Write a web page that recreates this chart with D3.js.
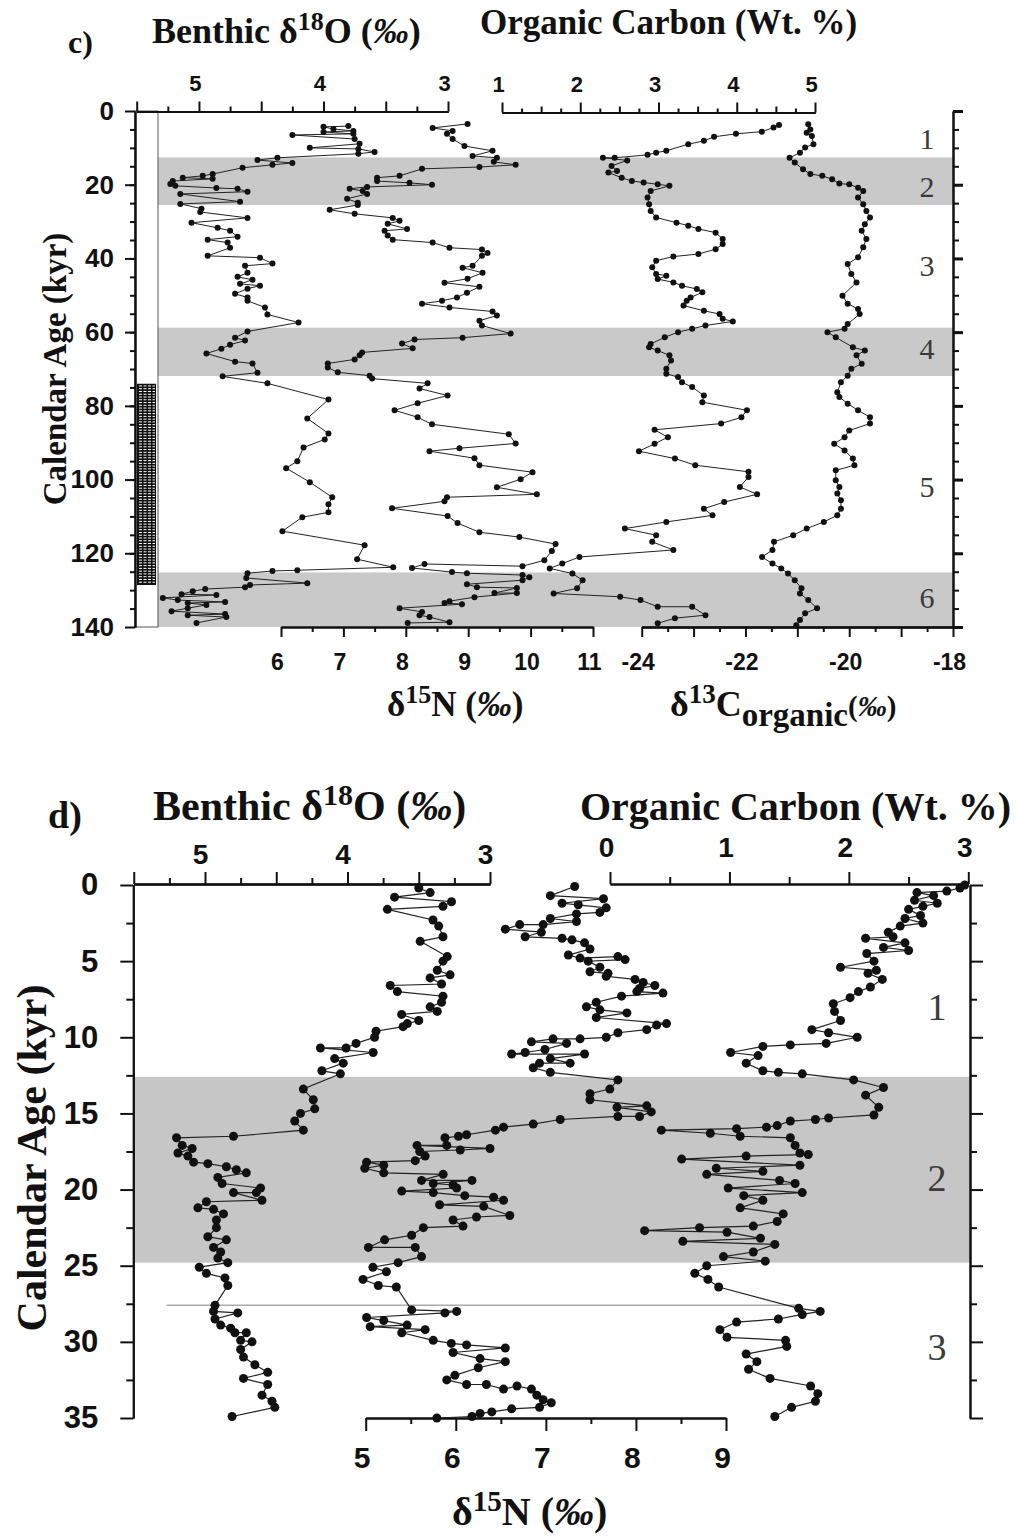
<!DOCTYPE html>
<html>
<head>
<meta charset="utf-8">
<script src="https://cdn.jsdelivr.net/npm/d3@7"></script>
<style>
  body { margin: 0; background: #fff; }
</style>
</head>
<body>
<svg id="chart" width="1016" height="1538"></svg>
<script>
// ---- panel c data: [age kyr, value] ----
const c_d18o = [[4.1,3.80],[4.3,4.00],[4.9,3.92],[5.4,3.76],[5.7,4.00],[6.2,3.76],[6.5,4.25],[7.6,3.75],[8.9,3.71],[10.0,4.11],[10.3,3.72],[11.1,3.59],[11.6,3.72],[12.7,4.37],[13.3,4.53],[14.1,4.25],[14.6,4.41],[15.4,4.65],[17.1,4.89],[17.6,4.97],[18.1,5.13],[18.4,4.89],[19.0,5.21],[19.8,5.23],[20.3,5.19],[20.9,4.86],[21.1,4.69],[21.9,4.61],[22.5,5.15],[24.6,4.67],[25.2,5.15],[26.5,4.98],[27.4,4.99],[29.0,4.61],[30.3,5.06],[31.7,4.85],[32.5,4.75],[34.1,4.69],[34.9,4.93],[35.7,4.77],[37.1,4.75],[39.3,4.93],[39.8,4.51],[41.4,4.41],[42.0,4.63],[43.9,4.61],[45.0,4.69],[45.8,4.57],[46.9,4.67],[47.4,4.51],[48.2,4.61],[49.6,4.71],[50.6,4.61],[51.5,4.61],[53.3,4.47],[55.2,4.45],[57.4,4.20],[59.8,4.61],[61.5,4.71],[62.3,4.63],[63.4,4.75],[64.5,4.82],[65.8,4.94],[68.0,4.71],[68.5,4.57],[71.0,4.53],[72.0,4.81],[73.9,4.45],[78.3,3.96],[83.4,4.13],[87.5,3.96],[89.1,3.99],[91.3,4.16],[95.0,4.21],[96.9,4.30],[100.7,4.11],[104.8,3.93],[106.7,3.96],[108.9,3.96],[110.2,4.17],[114.0,4.33],[117.8,3.67],[121.6,3.73],[123.8,3.44],[124.6,4.21],[124.8,4.41],[125.4,4.61],[126.7,4.62],[128.1,4.13],[128.6,4.59],[129.2,4.63],[129.7,4.95],[130.3,5.05],[131.1,5.14],[131.3,4.86],[132.1,5.29],[132.7,5.17],[133.2,4.79],[133.5,5.09],[134.0,4.94],[134.9,5.09],[135.7,5.22],[136.5,4.79],[136.8,5.09],[137.3,4.78],[138.9,5.02]];

const c_d15n = [[3.5,8.99],[4.6,8.43],[5.4,8.75],[6.2,8.66],[7.6,8.75],[9.5,8.94],[10.8,9.39],[12.2,9.07],[12.7,9.46],[13.8,9.41],[14.6,9.76],[15.2,9.18],[15.7,8.26],[17.6,7.90],[18.1,7.54],[19.0,7.54],[19.5,8.06],[20.0,8.42],[20.6,7.38],[21.1,7.10],[21.7,7.31],[22.5,7.38],[23.8,7.06],[24.9,7.23],[25.5,7.23],[26.8,6.78],[27.9,7.18],[29.0,7.79],[29.8,7.90],[30.6,7.71],[32.0,8.02],[32.5,7.66],[33.8,7.71],[34.9,7.79],[35.7,8.43],[37.1,8.70],[37.6,9.22],[38.5,9.31],[39.3,9.22],[42.0,9.07],[42.5,8.91],[43.9,9.23],[45.5,8.99],[46.6,8.62],[47.7,9.18],[49.3,8.98],[50.6,8.82],[51.5,8.58],[52.3,8.26],[53.3,8.70],[54.4,9.39],[55.5,9.46],[56.9,9.18],[58.2,9.22],[60.4,9.68],[61.5,8.91],[62.0,8.14],[63.1,7.94],[64.4,8.11],[65.5,7.30],[66.3,7.26],[67.4,7.18],[68.5,6.75],[69.6,6.75],[70.9,6.91],[71.8,7.42],[72.6,7.46],[73.9,8.35],[75.3,8.22],[77.2,8.67],[79.3,8.19],[81.2,7.82],[83.1,8.19],[85.0,8.42],[87.7,9.65],[90.2,9.76],[91.5,8.86],[92.3,8.38],[94.2,9.10],[96.1,9.18],[98.0,10.03],[99.9,9.84],[102.1,9.46],[104.0,10.10],[104.8,8.66],[105.9,8.62],[107.8,7.78],[109.9,8.67],[111.8,8.83],[114.3,9.18],[115.6,9.82],[117.5,10.40],[119.4,10.34],[121.9,10.22],[123.5,9.87],[122.9,8.30],[124.0,8.10],[125.1,8.74],[125.4,8.98],[125.9,9.87],[126.5,9.98],[127.3,9.87],[128.4,8.98],[129.2,9.14],[129.4,9.78],[130.8,9.42],[130.8,9.78],[131.9,9.10],[133.0,8.70],[133.5,8.62],[133.8,8.90],[134.9,7.90],[135.9,8.26],[136.8,8.22],[137.3,8.38],[138.7,8.70],[138.9,8.03]];

const c_orgc = [[3.8,4.54],[4.5,4.47],[5.6,4.32],[6.2,3.99],[7.0,3.71],[8.1,3.58],[9.0,3.38],[10.8,3.10],[11.3,2.97],[11.9,2.86],[12.7,2.44],[12.7,2.29],[13.4,2.60],[14.9,2.40],[16.3,2.47],[16.7,2.36],[18.1,2.53],[19.0,2.66],[19.4,2.81],[19.9,2.99],[20.3,3.14],[21.7,2.90],[23.5,2.86],[25.3,2.88],[27.1,2.90],[28.9,2.97],[30.3,3.23],[31.1,3.38],[32.0,3.51],[33.0,3.73],[34.7,3.82],[36.1,3.82],[37.5,3.73],[38.8,3.51],[39.5,3.19],[40.6,2.97],[42.4,2.92],[44.2,2.97],[44.7,3.10],[45.6,2.99],[46.5,3.19],[47.4,3.30],[48.3,3.49],[49.2,3.56],[50.6,3.41],[51.5,3.36],[52.8,3.32],[54.2,3.58],[55.1,3.78],[56.4,3.82],[57.1,3.95],[58.2,3.60],[59.1,3.43],[60.0,3.25],[61.4,3.08],[63.2,2.90],[64.1,2.88],[65.0,2.99],[66.3,3.14],[67.7,3.16],[69.9,3.10],[71.3,3.10],[72.2,3.25],[73.6,3.30],[74.9,3.43],[77.2,3.58],[79.0,3.56],[81.2,4.13],[83.1,4.06],[84.8,3.80],[86.5,2.95],[88.5,3.12],[90.3,2.95],[92.3,2.75],[94.3,3.21],[96.1,3.47],[97.9,4.15],[99.3,4.15],[102.0,4.04],[104.0,4.26],[106.1,3.84],[107.9,3.58],[109.7,3.69],[111.5,3.10],[113.3,2.57],[115.1,2.97],[116.9,2.92],[119.1,3.19],[121.0,1.99],[122.8,1.77],[124.1,1.61],[125.5,1.90],[127.3,2.03],[129.5,1.96],[130.9,1.66],[131.8,2.51],[132.7,2.77],[134.5,2.99],[134.5,3.43],[136.8,3.60],[137.6,3.21],[139.0,2.99]];

const c_d13c = [[3.6,-20.79],[5.0,-20.75],[5.9,-20.82],[6.8,-20.72],[9.0,-20.69],[9.9,-20.85],[11.3,-20.95],[12.7,-21.15],[14.0,-21.05],[15.8,-20.89],[17.1,-20.75],[17.6,-20.52],[18.5,-20.33],[19.7,-20.19],[19.9,-20.00],[20.8,-19.83],[21.7,-19.73],[23.5,-19.83],[25.3,-19.73],[27.1,-19.67],[28.9,-19.60],[30.7,-19.70],[32.5,-19.76],[34.7,-19.67],[37.0,-19.73],[39.7,-19.83],[41.5,-20.03],[44.2,-19.96],[46.5,-19.86],[50.1,-20.13],[52.3,-20.03],[53.7,-19.83],[55.1,-19.80],[57.8,-20.03],[59.1,-20.09],[60.0,-20.42],[61.4,-20.26],[64.1,-19.93],[65.0,-19.70],[66.3,-19.86],[68.6,-19.76],[69.9,-19.96],[71.8,-20.03],[73.6,-20.16],[76.3,-20.23],[77.6,-20.19],[79.4,-20.03],[81.2,-19.83],[83.1,-19.60],[84.8,-19.60],[86.7,-20.00],[88.5,-20.09],[90.3,-20.29],[92.1,-20.09],[94.3,-19.93],[96.1,-19.90],[97.5,-20.26],[100.2,-20.26],[102.0,-20.19],[103.8,-20.23],[105.6,-20.16],[107.9,-20.16],[109.7,-20.23],[111.5,-20.49],[113.3,-20.82],[115.1,-21.08],[116.9,-21.45],[119.1,-21.48],[121.0,-21.68],[122.8,-21.48],[124.1,-21.31],[125.5,-21.18],[127.3,-21.05],[129.5,-20.92],[130.9,-20.95],[132.7,-20.79],[134.9,-20.62],[136.3,-20.85],[138.1,-20.95],[139.5,-21.02]];

// ---- panel d data: [age kyr, value] ----
const d_d18o = [[0.2,3.50],[0.5,3.42],[0.8,3.67],[1.1,3.27],[1.4,3.33],[1.6,3.72],[2.3,3.40],[2.7,3.36],[3.4,3.33],[3.7,3.49],[4.7,3.30],[5.0,3.33],[5.6,3.37],[5.9,3.28],[6.1,3.42],[6.5,3.34],[6.6,3.70],[7.0,3.65],[7.3,3.33],[7.7,3.34],[8.0,3.42],[8.3,3.37],[8.5,3.62],[8.9,3.50],[9.1,3.58],[9.3,3.61],[9.6,3.80],[10.0,3.81],[10.4,3.94],[10.7,4.01],[10.7,4.19],[11.0,3.82],[11.4,4.09],[11.7,4.03],[12.2,4.18],[12.4,4.05],[13.4,4.31],[14.1,4.24],[14.7,4.23],[15.0,4.33],[15.5,4.37],[16.1,4.31],[16.5,4.80],[16.6,5.20],[17.1,5.16],[17.3,5.09],[17.6,5.19],[17.8,5.12],[18.2,5.08],[18.3,4.98],[18.5,4.85],[18.7,4.78],[18.9,4.71],[19.2,4.91],[19.6,4.88],[19.9,4.61],[20.2,4.64],[20.2,4.80],[20.7,4.60],[20.8,4.99],[21.2,5.05],[21.3,4.94],[21.6,4.87],[22.0,4.92],[22.5,4.92],[23.1,4.98],[23.3,4.85],[23.8,4.94],[24.1,4.89],[24.5,4.91],[24.8,4.84],[25.1,5.04],[25.5,4.99],[25.8,4.86],[26.3,4.84],[27.6,4.93],[28.0,4.94],[28.1,4.77],[28.5,4.93],[28.9,4.89],[29.1,4.82],[29.4,4.79],[29.4,4.71],[29.9,4.75],[30.0,4.67],[30.5,4.75],[31.0,4.73],[31.5,4.65],[32.0,4.56],[32.4,4.73],[32.8,4.56],[33.5,4.60],[33.9,4.53],[34.3,4.51],[34.9,4.81]];

const d_d15n = [[0.1,7.32],[0.7,7.05],[0.9,7.64],[1.2,7.18],[1.3,7.36],[1.5,7.67],[1.8,7.60],[1.9,7.34],[2.2,7.05],[2.4,7.34],[2.6,6.97],[2.6,6.71],[2.9,6.55],[3.1,6.95],[3.4,6.77],[3.5,7.18],[3.6,7.29],[3.8,7.43],[4.2,7.49],[4.6,7.25],[4.8,7.38],[4.7,7.80],[4.9,7.88],[5.0,7.47],[5.4,7.60],[5.7,7.49],[5.8,7.69],[6.0,7.67],[6.2,7.99],[6.4,8.08],[6.6,8.21],[6.8,8.04],[7.0,8.01],[7.1,8.30],[7.3,7.84],[7.7,7.56],[8.0,7.45],[8.2,7.60],[8.4,7.90],[8.7,7.56],[9.1,8.34],[9.2,8.23],[9.5,8.12],[9.7,7.80],[10.0,7.67],[10.1,7.38],[10.1,7.08],[10.3,6.84],[10.4,7.23],[10.8,6.99],[11.0,6.77],[11.1,6.62],[11.1,7.43],[11.4,7.05],[11.7,7.27],[11.7,6.93],[12.0,6.86],[12.3,7.05],[12.8,7.80],[13.4,7.71],[13.7,7.49],[14.1,7.49],[14.5,8.12],[14.6,7.79],[14.9,8.17],[15.2,8.04],[15.2,7.80],[15.4,7.16],[15.7,6.86],[15.9,6.53],[16.1,6.44],[16.4,6.12],[16.5,6.03],[16.6,5.88],[17.1,5.90],[17.1,5.57],[17.3,6.38],[17.4,6.05],[17.5,5.60],[17.8,5.66],[18.1,5.55],[18.2,5.01],[18.4,5.20],[18.6,4.99],[18.9,5.20],[19.0,5.86],[19.4,5.62],[19.4,6.18],[19.6,5.75],[19.7,5.97],[19.9,6.01],[20.1,5.40],[20.2,5.75],[20.4,6.10],[20.5,6.42],[20.7,6.53],[21.0,5.82],[21.1,6.31],[21.7,6.60],[21.8,6.23],[22.0,5.97],[22.4,6.08],[22.5,5.64],[23.0,5.51],[23.3,5.21],[23.8,5.03],[23.8,5.55],[24.4,5.62],[24.8,5.36],[25.1,5.08],[25.4,5.23],[25.9,4.97],[26.3,5.14],[26.4,5.34],[27.9,5.51],[28.0,6.01],[28.1,5.88],[28.4,5.01],[28.6,5.20],[28.9,5.46],[29.0,5.05],[29.2,5.66],[29.4,5.40],[29.9,5.75],[30.1,5.95],[30.2,6.12],[30.4,6.55],[30.7,5.97],[31.1,6.27],[31.3,6.55],[31.7,6.25],[32.2,5.99],[32.5,5.90],[32.8,6.12],[32.8,6.34],[33.1,6.53],[32.9,6.68],[33.1,6.84],[33.5,6.90],[33.8,6.97],[34.0,7.06],[34.3,6.93],[34.4,6.62],[34.6,6.40],[34.7,6.27],[34.9,6.18],[35.0,5.79]];

const d_orgc = [[0.0,2.97],[0.2,2.93],[0.4,2.82],[0.5,2.57],[0.7,2.71],[1.0,2.55],[1.2,2.74],[1.4,2.62],[1.6,2.50],[2.0,2.60],[2.2,2.47],[2.5,2.62],[2.7,2.43],[3.1,2.33],[3.4,2.37],[3.5,2.14],[3.8,2.47],[4.1,2.29],[4.3,2.50],[4.5,2.15],[5.0,2.21],[5.4,1.93],[5.6,2.23],[5.8,2.16],[6.2,2.28],[6.7,2.18],[7.0,2.08],[7.4,2.01],[7.8,1.87],[8.3,1.88],[8.9,1.93],[9.5,1.69],[9.7,1.83],[10.0,2.07],[10.4,1.81],[10.5,1.51],[10.6,1.28],[11.0,1.01],[11.2,1.24],[11.7,1.14],[12.2,1.28],[12.3,1.41],[12.4,1.61],[12.8,2.04],[13.3,2.29],[13.8,2.14],[14.6,2.25],[15.1,2.21],[15.3,1.83],[15.4,1.72],[15.5,1.51],[15.8,1.40],[15.9,1.31],[16.0,1.06],[16.1,0.43],[16.3,0.84],[16.5,1.09],[16.6,1.51],[17.1,1.55],[17.6,1.59],[17.7,1.66],[17.8,1.14],[18.0,0.60],[18.4,1.59],[18.6,0.89],[18.8,1.28],[19.0,0.81],[19.4,1.42],[19.6,1.55],[19.9,0.99],[20.2,1.61],[20.4,1.12],[20.7,1.28],[21.2,1.09],[21.6,1.45],[22.1,1.40],[22.4,1.20],[22.5,0.75],[22.7,0.29],[22.8,0.98],[23.2,1.26],[23.4,0.61],[23.6,1.38],[24.1,1.20],[24.4,0.95],[24.7,1.30],[25.0,0.81],[25.5,0.71],[25.9,0.82],[26.4,0.91],[27.8,1.58],[28.0,1.76],[28.2,1.61],[28.5,1.41],[28.7,1.06],[29.2,0.92],[29.7,0.98],[29.9,1.47],[30.3,1.48],[30.8,1.14],[31.3,1.23],[31.8,1.16],[32.4,1.34],[32.9,1.68],[33.4,1.74],[33.9,1.72],[34.3,1.52],[34.9,1.38]];

// shaded stages, labels, ticks
const cBands = [[12.6,25.5],[58.8,71.9],[125.2,140]];
const dBands = [[12.6,24.8]];
const cStages = ["1","2","3","4","5","6"];
const cStageAges = [7.5,20.5,42,64.5,102,132];
const dStages = ["1","2","3"];
const dStageAges = [8,19.2,30.3];
const cHatch = [74,128.6];
const dRefAge = 27.6;

const cAgeTicks = [0,20,40,60,80,100,120,140];
const c18Ticks = [5,4,3];
const cOrgTicks = [1,2,3,4,5];
const cNTicks = [6,7,8,9,10,11];
const c13Ticks = [-24,-22,-20,-18];
const dAgeTicks = [0,5,10,15,20,25,30,35];
const d18Ticks = [5,4,3];
const dOrgTicks = [0,1,2,3];
const dNTicks = [5,6,7,8,9];

const serif = "'Liberation Serif','Times New Roman',serif";
const sans = "'Liberation Sans',Arial,sans-serif";
const svg = d3.select("#chart");

// scales
const yC = d3.scaleLinear().domain([0,140]).range([111,627]);
const xC18 = d3.scaleLinear().domain([5.5,3]).range([136.7,448]);
const xCN = d3.scaleLinear().domain([6,11]).range([281,593]);
const xCOrg = d3.scaleLinear().domain([1,5]).range([502,815]);
const xC13 = d3.scaleLinear().domain([-24,-18]).range([641.7,953]);

const yD = d3.scaleLinear().domain([0,35]).range([885,1418]);
const xD18 = d3.scaleLinear().domain([5.5,3]).range([133.75,490]);
const xDN = d3.scaleLinear().domain([5,9]).range([365.7,726]);
const xDOrg = d3.scaleLinear().domain([0,3]).range([610,968.3]);

function addAxis(tr, make, scale, vals, size, o) {
  o = o || {};
  const a = make(scale).tickValues(vals).tickSize(size).tickSizeOuter(0)
    .tickPadding(o.pad || 3)
    .tickFormat(o.labels ? (d => String(d)) : () => "");
  const g = svg.append("g").attr("transform", tr).call(a);
  g.attr("font-family", sans).attr("font-weight", "bold").attr("font-size", o.fs || 20);
  g.select(".domain").attr("stroke", "#111").attr("stroke-width", 2);
  g.selectAll(".tick line").attr("stroke", "#111").attr("stroke-width", o.tw || 2);
  g.selectAll(".tick text").attr("fill", "#111").attr("dx", o.dx || 0);
  return g;
}

function drawSeries(data, x, y, r, sw) {
  const line = d3.line().x(d => x(d[1])).y(d => y(d[0]));
  svg.append("path").datum(data).attr("d", line)
    .attr("fill", "none").attr("stroke", "#222").attr("stroke-width", sw);
  svg.append("g").selectAll("circle").data(data).join("circle")
    .attr("cx", d => x(d[1])).attr("cy", d => y(d[0])).attr("r", r).attr("fill", "#111");
}

// ================= panel c =================
svg.append("g").selectAll("rect").data(cBands).join("rect")
  .attr("x", 158).attr("width", 953 - 158)
  .attr("y", d => yC(d[0])).attr("height", d => yC(d[1]) - yC(d[0]))
  .attr("fill", "#c9c9c9");

// core column
svg.append("rect").attr("x", 135).attr("y", yC(0)).attr("width", 23).attr("height", yC(140) - yC(0))
  .attr("fill", "#fff").attr("stroke", "#555").attr("stroke-width", 1);
svg.append("rect").attr("x", 137).attr("y", yC(cHatch[0])).attr("width", 19)
  .attr("height", yC(cHatch[1]) - yC(cHatch[0])).attr("fill", "#111");
svg.append("g").selectAll("line").data(d3.range(cHatch[0] + 0.6, cHatch[1] - 0.3, 0.75)).join("line")
  .attr("x1", 139).attr("x2", 155).attr("y1", d => yC(d)).attr("y2", d => yC(d))
  .attr("stroke", "#fff").attr("stroke-width", 1).attr("stroke-dasharray", "3 1.5");

// axes c
addAxis("translate(0,111.5)", d3.axisTop, xC18, c18Ticks, 10, {labels: true, pad: 11, fs: 22, dx: -4});
addAxis("translate(0,111.5)", d3.axisTop, xC18, [5.5,4.5,3.5], 10);
addAxis("translate(0,111.5)", d3.axisTop, xC18, d3.range(5.25, 3, -0.5), 5);
addAxis("translate(0,112.5)", d3.axisTop, xCOrg, cOrgTicks, 10, {labels: true, pad: 11, fs: 22, dx: -4});
addAxis("translate(0,112.5)", d3.axisTop, xCOrg, d3.range(1.5, 5, 1), 6);
addAxis("translate(0,112.5)", d3.axisTop, xCOrg, d3.range(1.25, 5, 0.5), 4);
addAxis("translate(135,0)", d3.axisLeft, yC, cAgeTicks, 10, {labels: true, pad: 11, fs: 26});
addAxis("translate(135,0)", d3.axisLeft, yC, d3.range(5, 140, 5), 5);
addAxis("translate(953,0)", d3.axisRight, yC, d3.range(0, 141, 5), 6);
addAxis("translate(953,0)", d3.axisRight, yC, cAgeTicks, 10, {tw: 3});
addAxis("translate(0,627)", d3.axisBottom, xCN, cNTicks, 10, {labels: true, pad: 17, fs: 23, dx: -4});
addAxis("translate(0,627)", d3.axisBottom, xCN, d3.range(6.5, 11, 1), 5);
addAxis("translate(0,627)", d3.axisBottom, xC13, c13Ticks, 10, {labels: true, pad: 17, fs: 23, dx: -4});
addAxis("translate(0,627)", d3.axisBottom, xC13, [-23,-21,-19], 10);
addAxis("translate(0,627)", d3.axisBottom, xC13, d3.range(-23.5, -18, 1), 5);

drawSeries(c_d18o, xC18, yC, 3, 1);
drawSeries(c_d15n, xCN, yC, 3, 1);
drawSeries(c_orgc, xCOrg, yC, 3, 1);
drawSeries(c_d13c, xC13, yC, 3, 1);

svg.append("g").selectAll("text").data(cStages).join("text")
  .attr("x", 927).attr("y", (d, i) => yC(cStageAges[i])).attr("dy", "0.35em")
  .attr("text-anchor", "middle").attr("font-family", serif).attr("font-size", 30)
  .attr("fill", "#3a3a3a").text(d => d);

// ================= panel d =================
svg.append("g").selectAll("rect").data(dBands).join("rect")
  .attr("x", 134).attr("width", 970 - 134)
  .attr("y", d => yD(d[0])).attr("height", d => yD(d[1]) - yD(d[0]))
  .attr("fill", "#c6c6c6");

svg.append("line").attr("x1", xD18(5.27)).attr("x2", xDOrg(1.6))
  .attr("y1", yD(dRefAge)).attr("y2", yD(dRefAge))
  .attr("stroke", "#aaa").attr("stroke-width", 1.5);

addAxis("translate(0,884)", d3.axisTop, xD18, d18Ticks, 12, {labels: true, pad: 8, fs: 28, dx: -5});
addAxis("translate(0,884)", d3.axisTop, xD18, [5.5,4.5,3.5], 12);
addAxis("translate(0,884)", d3.axisTop, xD18, d3.range(5.25, 3, -0.5), 6);
addAxis("translate(0,884)", d3.axisTop, xDOrg, dOrgTicks, 12, {labels: true, pad: 15, fs: 28, dx: -4});
addAxis("translate(0,884)", d3.axisTop, xDOrg, [0.5,1.5,2.5], 7);
addAxis("translate(133.3,0)", d3.axisLeft, yD, dAgeTicks, 13, {labels: true, pad: 22, fs: 31});
addAxis("translate(133.3,0)", d3.axisLeft, yD, d3.range(2.5, 35, 5), 7);
addAxis("translate(970,0)", d3.axisRight, yD, dAgeTicks, 13);
addAxis("translate(970,0)", d3.axisRight, yD, d3.range(2.5, 35, 5), 7);
addAxis("translate(0,1418)", d3.axisBottom, xDN, dNTicks, 13, {labels: true, pad: 16, fs: 30, dx: -4});
addAxis("translate(0,1418)", d3.axisBottom, xDN, [5.5,6.5,7.5,8.5], 6);

drawSeries(d_d18o, xD18, yD, 4.5, 1.2);
drawSeries(d_d15n, xDN, yD, 4.5, 1.2);
drawSeries(d_orgc, xDOrg, yD, 4.5, 1.2);

svg.append("g").selectAll("text").data(dStages).join("text")
  .attr("x", 937).attr("y", (d, i) => yD(dStageAges[i])).attr("dy", "0.35em")
  .attr("text-anchor", "middle").attr("font-family", serif).attr("font-size", 38)
  .attr("fill", "#3a3a3a").text(d => d);

// ================= titles =================
function label(x, y, fs, parts, rotate) {
  const t = svg.append("text").attr("font-family", serif).attr("font-weight", "bold")
    .attr("font-size", fs).attr("fill", "#111");
  if (rotate) t.attr("transform", `translate(${x},${y}) rotate(-90)`).attr("text-anchor", "middle");
  else t.attr("x", x).attr("y", y);
  parts.forEach(p => {
    const s = t.append("tspan").text(p.t);
    if (p.fs) s.attr("font-size", p.fs);
    if (p.dy) s.attr("dy", p.dy);
    if (p.it) s.attr("font-style", "italic");
  });
  return t;
}

label(68, 53, 32, [{t: "c)"}]);
label(152, 43, 36, [{t: "Benthic δ"}, {t: "18", fs: 26, dy: -13}, {t: "O (", dy: 13}, {t: "‰", it: 1}, {t: ")"}]);
label(480, 34, 35, [{t: "Organic Carbon (Wt. %)"}]);
label(387, 716, 35, [{t: "δ"}, {t: "15", fs: 26, dy: -13}, {t: "N (", dy: 13}, {t: "‰", it: 1}, {t: ")"}]);
label(670, 716, 36, [{t: "δ"}, {t: "13", fs: 27, dy: -13}, {t: "C", dy: 13}, {t: "organic", fs: 33, dy: 10}, {t: "(", fs: 29, dy: -10}, {t: "‰", fs: 29, it: 1}, {t: ")", fs: 29}]);
label(66, 369, 33, [{t: "Calendar Age (kyr)"}], true);

label(48, 828, 38, [{t: "d)"}]);
label(153, 820, 42, [{t: "Benthic δ"}, {t: "18", fs: 30, dy: -15}, {t: "O (", dy: 15}, {t: "‰", it: 1}, {t: ")"}]);
label(580, 820, 40, [{t: "Organic Carbon (Wt. %)"}]);
label(452, 1525, 40, [{t: "δ"}, {t: "15", fs: 29, dy: -14}, {t: "N (", dy: 14}, {t: "‰", it: 1}, {t: ")"}]);
label(46, 1158, 42, [{t: "Calendar Age (kyr)"}], true);
</script>
</body>
</html>
